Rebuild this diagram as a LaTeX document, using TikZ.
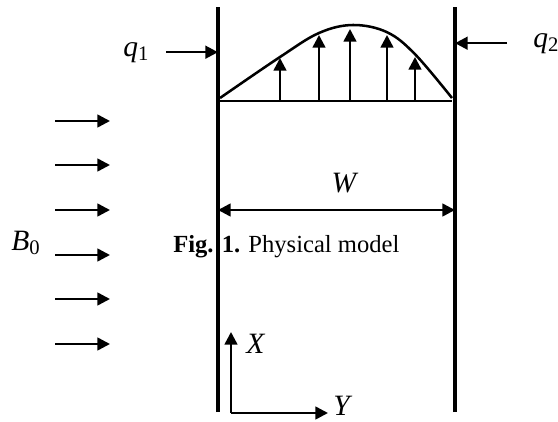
\documentclass[tikz,border=0pt]{standalone}
\usepackage{fontspec}
\setmainfont{Liberation Serif}
\usepackage{tikz}
\usetikzlibrary{arrows.meta,positioning}

\begin{document}
\begin{tikzpicture}[
    >={Triangle[length=9pt,width=9pt]},
    line width=1.8pt,
    wall/.style={line width=2.2pt},
    lbl/.style={font=\fontsize{21}{25}\selectfont\itshape},
    every node/.style={inner sep=0pt}
]
\useasboundingbox (0,0) rectangle (13.95,10.525);

%------------------------------------------------
% Walls
%------------------------------------------------
\coordinate (lw) at (5.45,0.225);
\coordinate (rw) at (11.375,0.225);
\draw[wall] (lw) -- ++(0,10.125);
\draw[wall] (rw) -- ++(0,10.125);

%------------------------------------------------
% Velocity profile
%------------------------------------------------
\draw (5.45,8.0) -- (11.3,8.0);
\draw plot[smooth,tension=0.6] coordinates {
(5.5,8.075) (7.0,9.1) (7.975,9.7) (8.825,9.9)
(9.675,9.72) (10.375,9.17) (11.3,8.075)};
\foreach \x/\t in {7.0/9.075, 7.975/9.65, 8.75/9.8, 9.675/9.65, 10.375/9.1}
{
    \draw[->] (\x,8.0) -- (\x,\t);
}

%------------------------------------------------
% Heat fluxes
%------------------------------------------------
\node[lbl,anchor=base west] (q1) at (3.05,9.125) {q\textsubscript{\upshape 1}};
\draw[->] ([xshift=0.4cm]q1.east) -- (q1.east -| lw);

\node[lbl,anchor=base west] (q2) at (13.3,9.35) {q\textsubscript{\upshape 2}};
\draw[->] ([xshift=-0.625cm]q2.west) -- (q2.west -| rw);

%------------------------------------------------
% Channel width
%------------------------------------------------
\coordinate (wa) at (5.45,5.275);
\coordinate (wb) at (11.375,5.275);
\draw[<->] (wa) -- (wb);
\node[lbl] (W) at (8.6,5.95) {W};

% caption
\node[anchor=base west,font=\fontsize{17.5}{21}\selectfont] (capt) at (4.3,4.225)
{\textbf{Fig. 1.} Physical model};

%------------------------------------------------
% Magnetic field
%------------------------------------------------
\foreach \y [count=\i] in {7.5,6.4,5.275,4.15,3.05,1.925}
{
    \coordinate (b\i) at (1.375,\y);
    \draw[->] (b\i) -- ++(1.375,0);
}
\node[lbl,anchor=base west] (B0) at (0.25,4.275) {B\textsubscript{\upshape 0}};

%------------------------------------------------
% Axes
%------------------------------------------------
\coordinate (o) at (5.775,0.2);
\draw[->] (o) -- ++(0,2.025);
\draw[->] (o) -- ++(2.425,0);
\node[lbl,anchor=base west] (X) at (6.125,1.7) {X};
\node[lbl,anchor=base west] (Y) at (8.3,0.13) {Y};

\end{tikzpicture}
\end{document}
